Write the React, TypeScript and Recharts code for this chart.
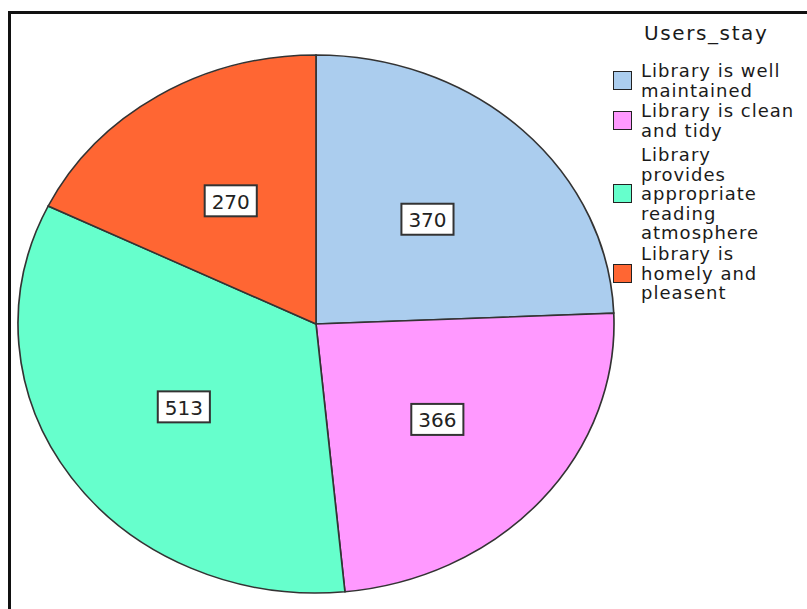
import { PieChart, Pie, Cell, Legend } from 'recharts'

// Users_stay responses
const categories = [
  'Library is well maintained',
  'Library is clean and tidy',
  'Library provides appropriate reading atmosphere',
  'Library is homely and pleasent',
]
const counts = [370, 366, 513, 270]
const legendLines = [
  ['Library is well', 'maintained'],
  ['Library is clean', 'and tidy'],
  ['Library', 'provides', 'appropriate', 'reading', 'atmosphere'],
  ['Library is', 'homely and', 'pleasent'],
]
const colors = ['#abcdee', '#ff99ff', '#66ffcc', '#ff6633']

const W = 807
const H = 609
const CX = 316
const CY = 324
const R = 269
// the original pie is an ellipse, wider than tall
const SX = 298 / 269
const LABEL_FRAC = 0.54

const itemGap = [16, 1, 5, 1.5]

const chartData = categories.map((name, i) => ({ name, value: counts[i] }))

const renderLabel = (props: any) => {
  const { cx, cy, midAngle, outerRadius, value } = props
  const rad = (-midAngle * Math.PI) / 180
  const x = cx + outerRadius * LABEL_FRAC * Math.cos(rad) * SX
  const y = cy + outerRadius * LABEL_FRAC * Math.sin(rad)
  const w = String(value).length * 12.7 + 14
  return (
    <g>
      <rect x={x - w / 2} y={y - 15.5} width={w} height={31} fill="#fff" stroke="#333" strokeWidth={2} />
      <text
        x={x}
        y={y + 1}
        textAnchor="middle"
        dominantBaseline="central"
        fontFamily="DejaVu Sans"
        fontSize={20}
        fill="#222"
      >
        {value}
      </text>
    </g>
  )
}

const renderLegend = () => (
  <div style={{ fontFamily: 'DejaVu Sans', color: '#1a1a1a', textAlign: 'left' }}>
    <div style={{ fontSize: 20, lineHeight: '24px', letterSpacing: 1.6, marginLeft: 31 }}>Users_stay</div>
    {legendLines.map((lines, i) => (
      <div key={i} style={{ display: 'flex', alignItems: 'center', marginTop: itemGap[i] }}>
        <div
          style={{
            width: 19,
            height: 19,
            boxSizing: 'border-box',
            background: colors[i],
            border: '1.5px solid #222',
            flexShrink: 0,
          }}
        />
        <div style={{ marginLeft: 9, fontSize: 18, letterSpacing: 1, lineHeight: '19.5px' }}>
          {lines.map((l) => (
            <div key={l} style={{ whiteSpace: 'nowrap' }}>{l}</div>
          ))}
        </div>
      </div>
    ))}
  </div>
)

export default function App() {
  return (
    <div style={{ position: 'absolute', left: 0, top: 0, width: W, height: H, background: '#fff', overflow: 'hidden' }}>
      <style>{`
        .users-stay .recharts-pie-sector {
          transform-box: view-box;
          transform-origin: ${CX}px ${CY}px;
          transform: scaleX(${SX});
        }
      `}</style>
      <div
        style={{
          position: 'absolute',
          left: 8,
          top: 11,
          width: W,
          height: H,
          borderTop: '3px solid #111',
          borderLeft: '3px solid #111',
        }}
      />
      <div className="users-stay" style={{ position: 'absolute', left: 0, top: 0 }}>
        <PieChart width={W} height={H} margin={{ top: 0, right: 0, bottom: 0, left: 0 }}>
          <Pie
            data={chartData}
            dataKey="value"
            nameKey="name"
            cx={CX}
            cy={CY}
            outerRadius={R}
            startAngle={90}
            endAngle={-270}
            stroke="#333"
            strokeWidth={1.5}
            label={renderLabel}
            labelLine={false}
            isAnimationActive={false}
          >
            {chartData.map((d, i) => (
              <Cell key={d.name} fill={colors[i]} />
            ))}
          </Pie>
          <Legend
            content={renderLegend}
            layout="vertical"
            align="right"
            verticalAlign="top"
            wrapperStyle={{ position: 'absolute', left: 613, top: 21, width: 194 }}
          />
        </PieChart>
      </div>
    </div>
  )
}
